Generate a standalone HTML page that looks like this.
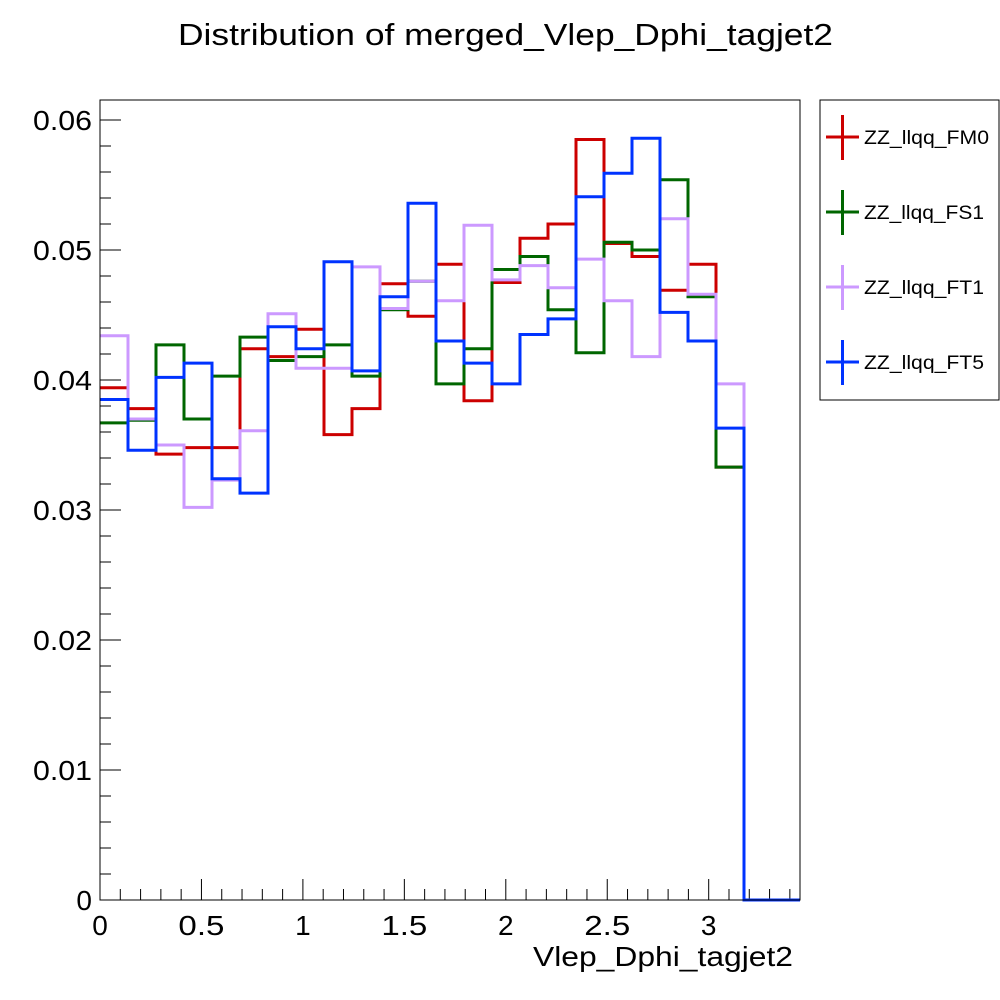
<!DOCTYPE html>
<html><head><meta charset="utf-8"><style>
body{margin:0;background:#fff;}
svg{display:block;font-family:"Liberation Sans",sans-serif;}
</style></head><body>
<svg id="c" width="1000" height="1000" viewBox="0 0 1000 1000">
<rect x="0" y="0" width="1000" height="1000" fill="#fff"/>
<text x="178" y="45" font-size="31" textLength="655" lengthAdjust="spacingAndGlyphs">Distribution of merged_Vlep_Dphi_tagjet2</text>
<g id="plot"></g>
<rect x="100" y="100" width="700" height="800" fill="none" stroke="#000" stroke-width="1"/>
<text x="533" y="966" font-size="28" textLength="260" lengthAdjust="spacingAndGlyphs">Vlep_Dphi_tagjet2</text>
<g id="legend">
<rect x="820" y="100" width="179" height="300" fill="#fff" stroke="#000" stroke-width="1"/>
</g>
</svg>
<script>
const series = ["ZZ_llqq_FM0","ZZ_llqq_FS1","ZZ_llqq_FT1","ZZ_llqq_FT5"];
const colors = ["#cc0000","#006600","#cc99ff","#0033ff"];
const xMin = 0, xMax = 3.45, nBins = 25;
const yTicks = [0,0.01,0.02,0.03,0.04,0.05,0.06];
const yTickLabels = ["0","0.01","0.02","0.03","0.04","0.05","0.06"];
const xTicks = [0,0.5,1,1.5,2,2.5,3];
const xTickLabels = ["0","0.5","1","1.5","2","2.5","3"];
const fm0 = [0.0394,0.0378,0.0343,0.0348,0.0348,0.0424,0.0418,0.0439,0.0358,0.0378,0.0474,0.0449,0.0489,0.0384,0.0475,0.0509,0.0520,0.0585,0.0505,0.0495,0.0469,0.0489,0.0333,0,0];
const fs1 = [0.0367,0.0369,0.0427,0.0370,0.0403,0.0433,0.0415,0.0418,0.0427,0.0403,0.0454,0.0476,0.0397,0.0424,0.0485,0.0495,0.0454,0.0421,0.0506,0.0500,0.0554,0.0464,0.0333,0,0];
const ft1 = [0.0434,0.0370,0.0350,0.0302,0.0323,0.0361,0.0451,0.0409,0.0409,0.0487,0.0455,0.0476,0.0461,0.0519,0.0477,0.0488,0.0471,0.0493,0.0461,0.0418,0.0524,0.0466,0.0397,0,0];
const ft5 = [0.0385,0.0346,0.0402,0.0413,0.0324,0.0313,0.0441,0.0424,0.0491,0.0407,0.0464,0.0536,0.0430,0.0413,0.0397,0.0435,0.0447,0.0541,0.0559,0.0586,0.0452,0.0430,0.0363,0,0];
const allData = [fm0,fs1,ft1,ft5];

const NS="http://www.w3.org/2000/svg";
const X0=100,X1=800,Y0=900,Y1=120;
const xs=v=>X0+(v-xMin)/(xMax-xMin)*(X1-X0);
const ys=v=>Y0-v/0.06*(Y0-Y1);
const plot=document.getElementById('plot');
function mk(tag,attrs,parent){const e=document.createElementNS(NS,tag);for(const k in attrs)e.setAttribute(k,attrs[k]);(parent||plot).appendChild(e);return e;}

for(let i=0;i<=30;i++){const v=i*0.002;const y=ys(v);if(y<100)break;
 const major=i%5===0;
 const t=mk('line',{x1:100,x2:100+(major?21:11),y1:y,y2:y,stroke:'#000','stroke-width':1});
 
 }
yTicks.forEach((v,i)=>{const t=mk('text',{x:92,y:ys(v)+10,'font-size':28,'text-anchor':'end'});t.textContent=yTickLabels[i];
 if(yTickLabels[i].length>1){t.setAttribute('textLength',59);t.setAttribute('lengthAdjust','spacingAndGlyphs');}
 
 });
for(let i=0;i<=34;i++){const v=i*0.1;const x=xs(v);const major=i%5===0;
 const t=mk('line',{x1:x,x2:x,y1:900,y2:900-(major?21:11),stroke:'#000','stroke-width':1});
 
 }
xTicks.forEach((v,i)=>{const t=mk('text',{x:xs(v),y:935,'font-size':28,'text-anchor':'middle'});t.textContent=xTickLabels[i];
 if(xTickLabels[i].length>1){t.setAttribute('textLength',46);t.setAttribute('lengthAdjust','spacingAndGlyphs');}
 
 });
const bw=(xMax-xMin)/nBins;
allData.forEach((d,s)=>{let p='';
 d.forEach((v,i)=>{p+=(i===0?'M':' L')+xs(xMin+i*bw)+','+ys(v)+' L'+xs(xMin+(i+1)*bw)+','+ys(v);});
 const e=mk('path',{d:p,fill:'none',stroke:colors[s],'stroke-width':3});
 
 });
const lg=document.getElementById('legend');
series.forEach((n,i)=>{const cy=137+i*75;
 const g=mk('g',{},lg);
 
 
 mk('line',{x1:826,x2:859,y1:cy,y2:cy,stroke:colors[i],'stroke-width':3},g);
 mk('line',{x1:842.5,x2:842.5,y1:cy-22,y2:cy+23,stroke:colors[i],'stroke-width':3},g);
 const t=mk('text',{x:864,y:cy+7,'font-size':19,textLength:(n.endsWith('M0')?125:120),lengthAdjust:'spacingAndGlyphs'},g);t.textContent=n;});
</script>
</body></html>
